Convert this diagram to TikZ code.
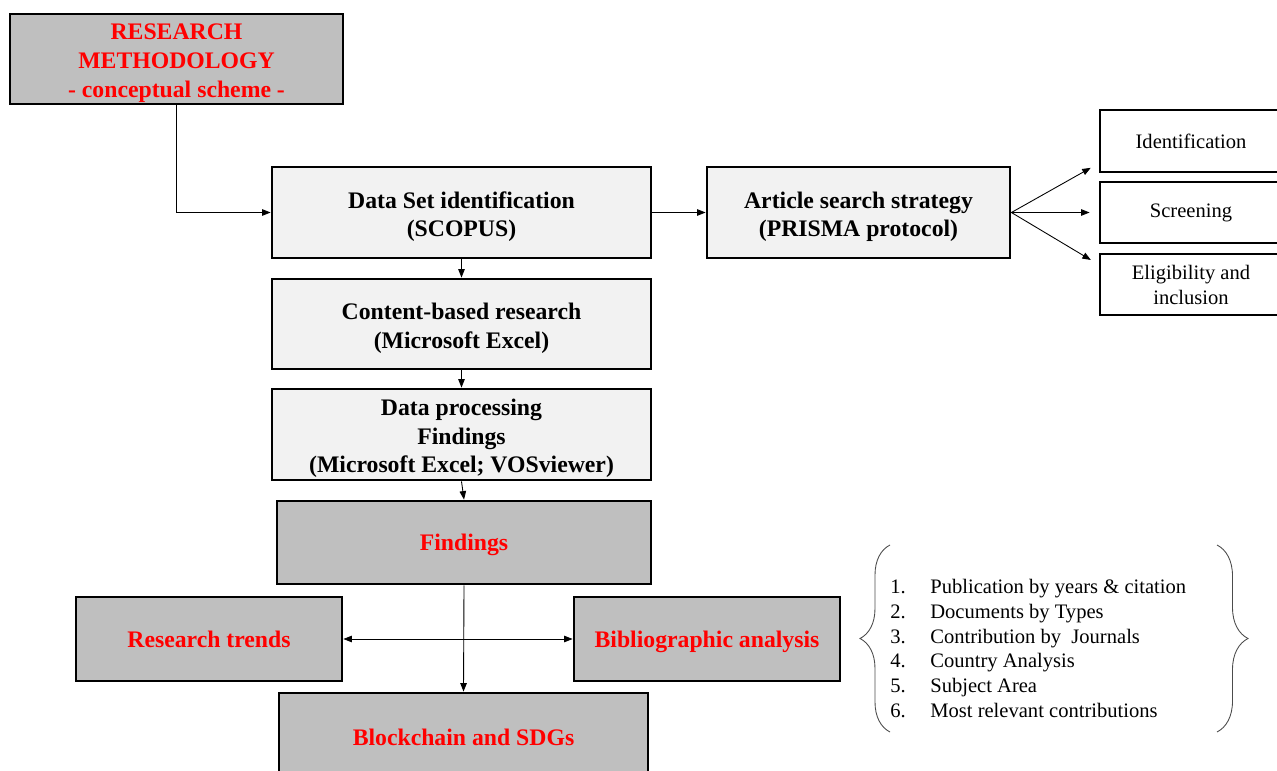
\documentclass[tikz,border=0pt]{standalone}
\usepackage{fontspec}
\setmainfont{Liberation Serif}
\usetikzlibrary{positioning,arrows.meta,decorations.pathreplacing}
\definecolor{boxGray}{RGB}{191,191,191}
\definecolor{boxLight}{RGB}{242,242,242}
\tikzset{
    darkBox/.style={draw=black, line width=1.6pt, fill=boxGray, text=red,
        font=\fontsize{13.5}{16.4}\selectfont\bfseries, align=center, inner sep=0pt},
    lightBox/.style={draw=black, line width=1.6pt, fill=boxLight,
        font=\fontsize{13.5}{16.2}\selectfont\bfseries, align=center, inner sep=0pt},
    stageBox/.style={draw=black, line width=1.6pt, fill=white,
        font=\fontsize{11.7}{14.2}\selectfont, align=center, inner sep=0pt,
        minimum width=3.64cm, minimum height=1.22cm},
    link/.style={line width=0.5pt, -{Triangle[length=0.17cm,width=0.13cm]}},
    twoLink/.style={line width=0.5pt, {Triangle[length=0.17cm,width=0.13cm]}-{Triangle[length=0.17cm,width=0.13cm]}},
    curly/.style={draw=black!70, line width=0.5pt, decorate}
}
\newcommand{\topGap}{\rule{0pt}{14pt}}
\newcommand{\listItem}[2]{\makebox[0.8cm][l]{#1}#2}

\begin{document}
\begin{tikzpicture}
    \useasboundingbox (0,0) rectangle (25.54,-15.42);
    % main column
    \node[darkBox, minimum width=6.66cm, minimum height=1.80cm] (title) at (3.53,-1.18)
        {\topGap RESEARCH\\METHODOLOGY\\- conceptual scheme -};
    \node[lightBox, minimum width=7.58cm, minimum height=1.82cm] (dataSet) at (9.23,-4.25)
        {\topGap Data Set identification\\(SCOPUS)};
    \node[lightBox, minimum width=7.58cm, minimum height=1.80cm] (content) at (9.23,-6.48)
        {\topGap Content-based research\\(Microsoft Excel)};
    \node[lightBox, minimum width=7.58cm, minimum height=1.82cm] (processing) at (9.23,-8.69)
        {\topGap Data processing\\Findings\\(Microsoft Excel; VOSviewer)};
    \node[darkBox, minimum width=7.48cm, minimum height=1.66cm, text depth=0pt] (findings) at (9.28,-10.85) {Findings};
    \node[darkBox, minimum width=5.32cm, minimum height=1.68cm, text depth=0pt] (trends) at (4.18,-12.78) {Research trends};
    \node[darkBox, minimum width=5.32cm, minimum height=1.68cm, text depth=0pt] (biblio) at (14.14,-12.78) {Bibliographic analysis};
    \node[darkBox, minimum width=7.38cm, minimum height=1.76cm] (blockchain) at (9.27,-14.74) {Blockchain and SDGs};
    % PRISMA branch
    \node[lightBox, minimum width=6.06cm, minimum height=1.82cm] (article) at (17.17,-4.25)
        {\topGap Article search strategy\\(PRISMA protocol)};
    \node[stageBox, minimum height=1.24cm] (ident) at (23.82,-2.82) {Identification};
    \node[stageBox] (screen) at (23.82,-4.25) {Screening};
    \node[stageBox] (elig) at (23.82,-5.69) {Eligibility and\\inclusion};
    % list of analyses
    \node[anchor=west, align=left, inner sep=0pt, font=\fontsize{11.7}{14.2}\selectfont] (items) at (17.8,-12.97)
        {\listItem{1.}{Publication by years \& citation}\\
         \listItem{2.}{Documents by Types}\\
         \listItem{3.}{Contribution by\ \ Journals}\\
         \listItem{4.}{Country Analysis}\\
         \listItem{5.}{Subject Area}\\
         \listItem{6.}{Most relevant contributions}};
    \draw[curly, decoration={brace, amplitude=0.6cm}] (17.8,-14.64) -- (17.8,-10.9);
    \draw[curly, decoration={brace, amplitude=0.62cm}] (24.34,-10.9) -- (24.34,-14.64);

    \draw[link] (title.south) |- (dataSet.west);
    \draw[link] (dataSet.south) -- (content.north);
    \draw[link] (content.south) -- (processing.north);
    \draw[link] (processing.south) -- (findings.north);
    \draw[link] (findings.south) -- (blockchain.north);
    \draw[twoLink] (trends.east) -- (biblio.west);
    \draw[link] (dataSet.east) -- (article.west);
    \draw[link, shorten >=0.18cm] (article.east) -- ([yshift=0.2cm]ident.south west);
    \draw[link, shorten >=0.18cm] (article.east) -- (screen.west);
    \draw[link, shorten >=0.18cm] (article.east) -- ([yshift=-0.24cm]elig.north west);
\end{tikzpicture}
\end{document}
